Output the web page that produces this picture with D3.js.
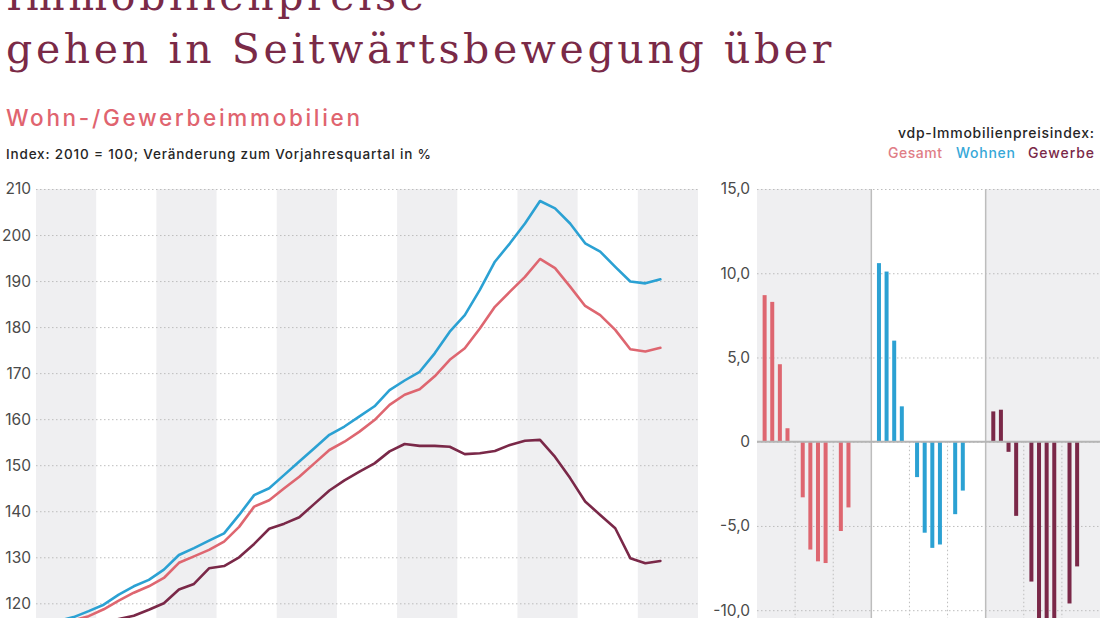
<!DOCTYPE html>
<html>
<head>
<meta charset="utf-8">
<script src="https://cdn.jsdelivr.net/npm/d3@7"></script>
<style>
  body { margin: 0; background: #fff; overflow: hidden; }
  svg { display: block; }
</style>
</head>
<body>
<script>
// quarterly index values, 2014 Q1 .. 2024 Q2 (2010 = 100)
const years = [2014, 2015, 2016, 2017, 2018, 2019, 2020, 2021, 2022, 2023, 2024];
const wohnen = [
  114.8, 116.2, 117.0, 118.3, 119.7, 121.9, 123.7, 125.1, 127.3, 130.5, 132.0, 133.6,
  135.2, 139.2, 143.5, 145.0, 147.9, 150.8, 153.7, 156.6, 158.4, 160.6, 162.8, 166.3,
  168.4, 170.3, 174.3, 179.0, 182.6, 188.1, 194.2, 198.2, 202.5, 207.4, 205.8, 202.5,
  198.2, 196.4, 193.1, 189.9, 189.5, 190.4
];
const gesamt = [
  114.0, 115.5, 116.3, 117.2, 118.7, 120.6, 122.3, 123.7, 125.5, 128.8, 130.2, 131.6,
  133.4, 136.6, 141.0, 142.4, 145.0, 147.5, 150.4, 153.3, 155.1, 157.3, 159.8, 163.1,
  165.3, 166.5, 169.3, 172.9, 175.4, 179.7, 184.4, 187.7, 190.9, 194.8, 192.8, 188.8,
  184.6, 182.6, 179.4, 175.2, 174.7, 175.5
];
const gewerbe = [
  111.5, 112.5, 113.5, 114.5, 115.5, 116.6, 117.3, 118.6, 120.0, 123.0, 124.2, 127.6,
  128.1, 130.0, 132.9, 136.2, 137.3, 138.7, 141.6, 144.5, 146.7, 148.6, 150.4, 153.0,
  154.6, 154.2, 154.2, 154.0, 152.4, 152.6, 153.1, 154.4, 155.3, 155.5, 151.8, 147.2,
  142.1, 139.2, 136.3, 129.8, 128.7, 129.2
];

// change vs. same quarter of previous year in %, 2022 Q1 .. 2024 Q2
const barYears = [2022, 2023, 2024];
const panels = ['Gesamt', 'Wohnen', 'Gewerbe'];
const gesamtChange = [8.7, 8.3, 4.6, 0.8, -3.3, -6.4, -7.1, -7.2, -5.3, -3.9];
const wohnenChange = [10.6, 10.1, 6.0, 2.1, -2.1, -5.4, -6.3, -6.1, -4.3, -2.9];
const gewerbeChange = [1.8, 1.9, -0.6, -4.4, -8.3, -10.6, -10.5, -12.0, -9.6, -7.4];

const leftTicks = [120, 130, 140, 150, 160, 170, 180, 190, 200, 210];
const rightTicks = [-10, -5, 0, 5, 10, 15];

const colors = { Gesamt: '#de6670', Wohnen: '#2ba1d3', Gewerbe: '#7a2848' };
const legendColors = { Gesamt: '#e07d86', Wohnen: '#36a8d8', Gewerbe: '#7a2848' };
const titleColor = '#7a2a47';
const sans = 'Inter, "Noto Sans", sans-serif';

const W = 1100, H = 618;
const svg = d3.select('body').append('svg').attr('width', W).attr('height', H);

// ---------- titles ----------
const t1 = svg.append('text').attr('x', 6).attr('y', 10).text('Immobilienpreise');
const t2 = svg.append('text').attr('x', 6).attr('y', 63).text('gehen in Seitwärtsbewegung über');
[t1, t2].forEach(t => t.attr('font-family', '"DejaVu Serif", serif')
  .attr('font-size', 41).attr('fill', titleColor));
const natural = t2.node().getComputedTextLength();
const spacing = (829 - natural) / 31;
t1.attr('letter-spacing', spacing);
t2.attr('letter-spacing', spacing);

svg.append('text').attr('x', 6).attr('y', 126)
  .attr('font-family', sans).attr('font-size', 22.5).attr('font-weight', 500)
  .attr('fill', '#e0646f').attr('textLength', 354).attr('lengthAdjust', 'spacing')
  .text('Wohn-/Gewerbeimmobilien');

svg.append('text').attr('x', 6).attr('y', 159)
  .attr('font-family', sans).attr('font-size', 13.5).attr('font-weight', 500)
  .attr('fill', '#262626').attr('textLength', 425).attr('lengthAdjust', 'spacing')
  .text('Index: 2010 = 100; Veränderung zum Vorjahresquartal in %');

svg.append('text').attr('x', 1094).attr('y', 138).attr('text-anchor', 'end')
  .attr('font-family', sans).attr('font-size', 14).attr('font-weight', 500)
  .attr('fill', '#262626').attr('textLength', 196).attr('lengthAdjust', 'spacing')
  .text('vdp-Immobilienpreisindex:');

const legendX = { Gesamt: 888, Wohnen: 956, Gewerbe: 1028 };
const legendW = { Gesamt: 54, Wohnen: 59, Gewerbe: 66 };
panels.forEach(p => {
  svg.append('text').attr('x', legendX[p]).attr('y', 158)
    .attr('font-family', sans).attr('font-size', 14).attr('font-weight', 500)
    .attr('fill', legendColors[p])
    .attr('textLength', legendW[p]).attr('lengthAdjust', 'spacing')
    .text(p);
});

// ---------- left: index lines ----------
const x = d3.scaleLinear().domain([2014, 2025]).range([36, 698]);
const y = d3.scaleLinear().domain([120, 210]).range([603.3, 189]);
const yTop = y(210);

svg.append('g').selectAll('rect')
  .data(years.filter((d, i) => i % 2 === 0))
  .enter().append('rect')
  .attr('x', d => x(d)).attr('width', d => x(d + 1) - x(d))
  .attr('y', yTop).attr('height', H - yTop)
  .attr('fill', '#efeff1');

const yAxis = svg.append('g').attr('transform', `translate(${x.range()[0]},0)`)
  .call(d3.axisLeft(y).tickValues(leftTicks).tickSize(-(x.range()[1] - x.range()[0]))
    .tickPadding(5).tickFormat(d3.format('d')));
yAxis.select('.domain').remove();
yAxis.selectAll('.tick line').attr('stroke', '#bdbdbd').attr('stroke-dasharray', '1.5,2.5');
yAxis.selectAll('.tick text').attr('font-family', sans).attr('font-size', 15.5)
  .attr('fill', '#4a4a4a');

const qx = i => x(years[0] + Math.floor(i / 4) + (i % 4 + 0.5) / 4);
const line = d3.line().x((d, i) => qx(i)).y(d => y(d));

[['Gewerbe', gewerbe], ['Gesamt', gesamt], ['Wohnen', wohnen]].forEach(([k, vals]) => {
  svg.append('path').datum(vals)
    .attr('d', line)
    .attr('fill', 'none').attr('stroke', colors[k]).attr('stroke-width', 2.6)
    .attr('stroke-linejoin', 'round').attr('stroke-linecap', 'round');
});

// ---------- right: change bars ----------
const xp = d3.scaleBand().domain(panels).range([757, 1100]);
const xq = d3.scaleLinear().domain([0, barYears.length]).range([0, xp.bandwidth()]);
const yr = d3.scaleLinear().domain([-10, 15]).range([610.2, 189]);

svg.append('g').selectAll('rect')
  .data(['Gesamt', 'Gewerbe'])
  .enter().append('rect')
  .attr('x', d => xp(d)).attr('width', xp.bandwidth())
  .attr('y', yr(15)).attr('height', H - yr(15))
  .attr('fill', '#efeff1');

const rAxis = svg.append('g').attr('transform', `translate(${xp.range()[0]},0)`)
  .call(d3.axisLeft(yr).tickValues(rightTicks).tickSize(-(xp.range()[1] - xp.range()[0]))
    .tickPadding(7).tickFormat(d => d === 0 ? '0' : d.toFixed(1).replace('.', ',')));
rAxis.select('.domain').remove();
rAxis.selectAll('.tick line').attr('stroke', '#bdbdbd').attr('stroke-dasharray', '1.5,2.5');
rAxis.selectAll('.tick text').attr('font-family', sans).attr('font-size', 15.5)
  .attr('fill', '#4a4a4a');

// year separators below zero
panels.forEach(p => {
  [1, 2].forEach(k => {
    svg.append('line')
      .attr('x1', xp(p) + xq(k)).attr('x2', xp(p) + xq(k))
      .attr('y1', yr(0)).attr('y2', H)
      .attr('stroke', '#bdbdbd').attr('stroke-dasharray', '1.5,2.5');
  });
});

// panel dividers
['Wohnen', 'Gewerbe'].forEach(p => {
  svg.append('line').attr('x1', xp(p)).attr('x2', xp(p))
    .attr('y1', yr(15)).attr('y2', H)
    .attr('stroke', '#bdbdbd').attr('stroke-width', 1.5);
});

const changes = { Gesamt: gesamtChange, Wohnen: wohnenChange, Gewerbe: gewerbeChange };
panels.forEach(p => {
  svg.append('g').selectAll('rect')
    .data(changes[p])
    .enter().append('rect')
    .attr('x', (d, i) => xp(p) + xq(Math.floor(i / 4) + (i % 4 + 1) / 5) - 2)
    .attr('width', 4)
    .attr('y', d => yr(Math.max(d, 0)))
    .attr('height', d => Math.abs(yr(d) - yr(0)))
    .attr('fill', colors[p]);
});

// zero line
svg.append('line').attr('x1', xp.range()[0]).attr('x2', xp.range()[1])
  .attr('y1', yr(0)).attr('y2', yr(0))
  .attr('stroke', '#b5b5b5').attr('stroke-width', 2);
</script>
</body>
</html>
